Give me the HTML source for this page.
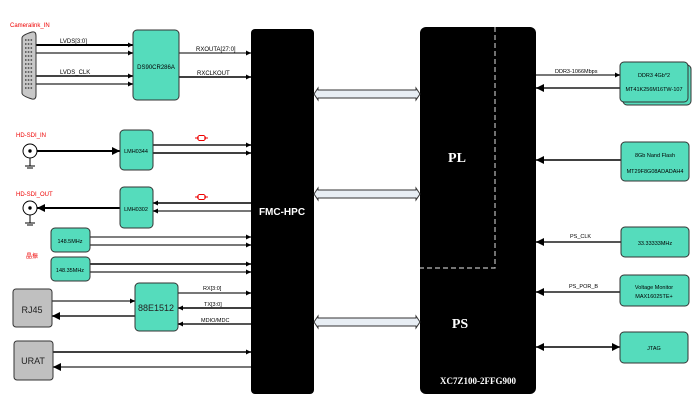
<!DOCTYPE html>
<html><head><meta charset="utf-8"><style>
html,body{margin:0;padding:0;background:#fff;width:696px;height:420px;overflow:hidden}
svg{display:block}
text{font-family:"Liberation Sans","Noto Sans CJK SC",sans-serif}
text.serif{font-family:"Liberation Serif",serif}
</style></head><body>
<svg width="696" height="420" viewBox="0 0 696 420" xmlns="http://www.w3.org/2000/svg">
<defs>
<marker id="a" viewBox="0 0 10 10" refX="10" refY="5" markerWidth="7" markerHeight="5" orient="auto-start-reverse" markerUnits="userSpaceOnUse"><path d="M0,0L10,5L0,10z" fill="#000"/></marker>
<marker id="b" viewBox="0 0 10 10" refX="10" refY="5" markerWidth="11" markerHeight="8" orient="auto-start-reverse" markerUnits="userSpaceOnUse"><path d="M0,0L10,5L0,10z" fill="#000"/></marker>
</defs>
<g stroke-width="2" fill="none">
<line x1="36" y1="45" x2="133" y2="45" stroke="#000" marker-end="url(#a)"/>
<line x1="36" y1="53" x2="133" y2="53" stroke="#777" marker-end="url(#a)"/>
<line x1="36" y1="76" x2="133" y2="76" stroke="#444" marker-end="url(#a)"/>
<line x1="36" y1="84" x2="133" y2="84" stroke="#777" marker-end="url(#a)"/>
<line x1="179" y1="53" x2="251" y2="53" stroke="#555" stroke-width="1.5" marker-end="url(#a)"/>
<line x1="179" y1="77" x2="251" y2="77" stroke="#000" stroke-width="1.5" marker-end="url(#a)"/>
<line x1="37" y1="151" x2="120" y2="151" stroke="#000" marker-end="url(#b)"/>
<line x1="153" y1="145" x2="251" y2="145" stroke="#555" marker-end="url(#a)"/>
<line x1="153" y1="153" x2="251" y2="153" stroke="#000" stroke-width="1.5" marker-end="url(#a)"/>
<line x1="120" y1="208" x2="37" y2="208" stroke="#000" marker-end="url(#b)"/>
<line x1="251" y1="203" x2="153" y2="203" stroke="#000" stroke-width="1.5" marker-end="url(#a)"/>
<line x1="251" y1="211" x2="153" y2="211" stroke="#777" marker-end="url(#a)"/>
<line x1="90" y1="237" x2="251" y2="237" stroke="#555" stroke-width="1.5" marker-end="url(#a)"/>
<line x1="90" y1="245" x2="251" y2="245" stroke="#777" marker-end="url(#a)"/>
<line x1="90" y1="264" x2="251" y2="264" stroke="#000" stroke-width="1.5" marker-end="url(#a)"/>
<line x1="90" y1="272" x2="251" y2="272" stroke="#777" marker-end="url(#a)"/>
<line x1="52" y1="301" x2="135" y2="301" stroke="#777" marker-end="url(#a)"/>
<line x1="135" y1="316" x2="52" y2="316" stroke="#555" marker-end="url(#b)"/>
<line x1="178" y1="293" x2="251" y2="293" stroke="#777" marker-end="url(#a)"/>
<line x1="251" y1="308" x2="178" y2="308" stroke="#000" stroke-width="1.5" marker-end="url(#a)"/>
<line x1="251" y1="324" x2="178" y2="324" stroke="#555" marker-end="url(#a)"/>
<line x1="53" y1="352" x2="251" y2="352" stroke="#000" stroke-width="1.5" marker-end="url(#a)"/>
<line x1="251" y1="367" x2="53" y2="367" stroke="#777" marker-end="url(#b)"/>
<line x1="536" y1="75" x2="620" y2="75" stroke="#777" marker-end="url(#a)"/>
<line x1="620" y1="88" x2="536" y2="88" stroke="#555" marker-end="url(#b)"/>
<line x1="621" y1="160" x2="536" y2="160" stroke="#000" stroke-width="1.5" marker-end="url(#b)"/>
<line x1="621" y1="242" x2="536" y2="242" stroke="#555" marker-end="url(#b)"/>
<line x1="620" y1="292" x2="536" y2="292" stroke="#555" marker-end="url(#b)"/>
<line x1="536" y1="347" x2="620" y2="347" stroke="#000" stroke-width="1.5" marker-start="url(#b)" marker-end="url(#b)"/>
</g>
<g stroke="#000" stroke-width="1" fill="#fff">
<line x1="30" y1="158" x2="30" y2="166"/><line x1="25" y1="166" x2="35" y2="166"/><line x1="27" y1="168" x2="33" y2="168"/>
<circle cx="30" cy="151" r="7"/><circle cx="30" cy="151" r="1.2" fill="#000"/>
<line x1="30" y1="215" x2="30" y2="223"/><line x1="25" y1="223" x2="35" y2="223"/><line x1="27" y1="225" x2="33" y2="225"/>
<circle cx="30" cy="208" r="7"/><circle cx="30" cy="208" r="1.2" fill="#000"/>
</g>
<path d="M22,38 Q22,35 32,32 Q36,31 36,36 L36,95 Q36,100 32,99 Q22,96 22,93 Z" fill="#c8c8c8" stroke="#333"/>
<g stroke="#444" stroke-width="1.5" stroke-dasharray="1.5,1.3">
<line x1="25" y1="40" x2="33" y2="40"/><line x1="25" y1="44" x2="33" y2="44"/><line x1="25" y1="48" x2="33" y2="48"/><line x1="25" y1="52" x2="33" y2="52"/><line x1="25" y1="56" x2="33" y2="56"/><line x1="25" y1="60" x2="33" y2="60"/><line x1="25" y1="64" x2="33" y2="64"/><line x1="25" y1="68" x2="33" y2="68"/><line x1="25" y1="72" x2="33" y2="72"/><line x1="25" y1="76" x2="33" y2="76"/><line x1="25" y1="80" x2="33" y2="80"/><line x1="25" y1="84" x2="33" y2="84"/><line x1="25" y1="88" x2="33" y2="88"/>
</g>
<g fill="#55dcbc" stroke="#333" stroke-width="1">
<rect x="133" y="30" width="46" height="70" rx="4"/>
<rect x="120" y="130" width="33" height="40" rx="4"/>
<rect x="120" y="187" width="33" height="41" rx="4"/>
<rect x="51" y="228" width="39" height="24" rx="4"/>
<rect x="51" y="257" width="39" height="24" rx="4"/>
<rect x="135" y="283" width="43" height="48" rx="4"/>
<rect x="623" y="65" width="68" height="40" rx="4"/>
<rect x="620" y="62" width="68" height="40" rx="4"/>
<rect x="621" y="142" width="68" height="39" rx="4"/>
<rect x="621" y="227" width="68" height="30" rx="4"/>
<rect x="620" y="275" width="69" height="31" rx="4"/>
<rect x="620" y="332" width="68" height="31" rx="4"/>
</g>
<g fill="#c0c0c0" stroke="#333">
<rect x="13" y="289" width="39" height="38" rx="3"/>
<rect x="14" y="341" width="39" height="39" rx="3"/>
</g>
<rect x="251" y="29" width="63" height="365" rx="4" fill="#000"/>
<rect x="420" y="27" width="116" height="367" rx="6" fill="#000"/>
<path d="M495,27 V268 H420" stroke="#bbb" stroke-width="1.2" stroke-dasharray="5,3" fill="none"/>
<g fill="#e8eef4" stroke="#333" stroke-width="1">
<path d="M314,94 L318,88 V90 H416 V88 L420,94 L416,100 V98 H318 V100 Z"/>
<path d="M314,194 L318,188 V190 H416 V188 L420,194 L416,200 V198 H318 V200 Z"/>
<path d="M314,322 L318,316 V318 H416 V316 L420,322 L416,328 V326 H318 V328 Z"/>
</g>
<g stroke="#e00" stroke-width="1" fill="none">
<path d="M195,138 H199 M204,138 H208 M199,135.5 H204 M199,140.5 H204 M199,135.5 Q196,138 199,140.5 M204,135.5 Q207,138 204,140.5"/>
<path d="M195,197 H199 M204,197 H208 M199,194.5 H204 M199,199.5 H204 M199,194.5 Q196,197 199,199.5 M204,194.5 Q207,197 204,199.5"/>
</g>
<g font-size="6" fill="#000">
<text x="10" y="27" fill="#e00">Cameralink_IN</text>
<text x="60" y="43">LVDS[3:0]</text>
<text x="60" y="74">LVDS_CLK</text>
<text x="156" y="69" text-anchor="middle">DS90CR286A</text>
<text x="196" y="51">RXOUTA[27:0]</text>
<text x="197" y="75">RXCLKOUT</text>
<text x="16" y="137" fill="#e00">HD-SDI_IN</text>
<text x="136" y="153" text-anchor="middle" font-size="5.5">LMH0344</text>
<text x="16" y="196" fill="#e00">HD-SDI_OUT</text>
<text x="136" y="211" text-anchor="middle" font-size="5.5">LMH0302</text>
<text x="70" y="243" text-anchor="middle" font-size="5.5">148.5MHz</text>
<text x="70" y="272" text-anchor="middle" font-size="5.5">148.35MHz</text>
<text x="26" y="258" fill="#e00">晶振</text>
<text x="203" y="290" font-size="5.5">RX[3:0]</text>
<text x="204" y="306" font-size="5.5">TX[3:0]</text>
<text x="201" y="322" font-size="5.5">MDIO/MDC</text>
<text x="555" y="73" font-size="5.5">DDR3-1066Mbps</text>
<text x="654" y="77" text-anchor="middle" font-size="5.5">DDR3 4Gb*2</text>
<text x="654" y="91" text-anchor="middle" font-size="5.5">MT41K256M16TW-107</text>
<text x="655" y="157" text-anchor="middle" font-size="5.5">8Gb Nand Flash</text>
<text x="655" y="173" text-anchor="middle" font-size="5.5">MT29F8G08ADADAH4</text>
<text x="570" y="238" font-size="5.5">PS_CLK</text>
<text x="655" y="245" text-anchor="middle" font-size="5.5">33.33333MHz</text>
<text x="569" y="288" font-size="5.5">PS_POR_B</text>
<text x="654" y="289" text-anchor="middle" font-size="5.5">Voltage Monitor</text>
<text x="654" y="298" text-anchor="middle" font-size="5.5">MAX16025TE+</text>
<text x="654" y="350" text-anchor="middle" font-size="5.5">JTAG</text>
</g>
<text x="32" y="313" text-anchor="middle" font-size="9" fill="#222">RJ45</text>
<text x="33" y="364" text-anchor="middle" font-size="9" fill="#222">URAT</text>
<text x="156" y="311" text-anchor="middle" font-size="9" fill="#222">88E1512</text>
<text x="282" y="215" text-anchor="middle" font-size="10" font-weight="bold" fill="#fff">FMC-HPC</text>
<text class="serif" x="457" y="162" text-anchor="middle" font-size="14" font-weight="bold" fill="#fff">PL</text>
<text class="serif" x="460" y="328" text-anchor="middle" font-size="14" font-weight="bold" fill="#fff">PS</text>
<text class="serif" x="478" y="384" text-anchor="middle" font-size="9" font-weight="bold" fill="#fff">XC7Z100-2FFG900</text>
</svg>
</body></html>
